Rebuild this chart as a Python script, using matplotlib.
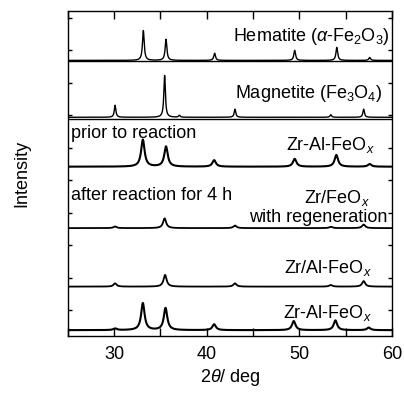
import numpy as np
import matplotlib.pyplot as plt
from matplotlib.ticker import MultipleLocator

plt.rcParams['font.family'] = 'Liberation Sans'
plt.rcParams['mathtext.fontset'] = 'custom'
plt.rcParams['mathtext.rm'] = 'Liberation Sans'
plt.rcParams['mathtext.it'] = 'Liberation Sans:italic'

# peak tables: 2theta (deg), height, offset of trace
hem_pos = [33.15, 35.6, 40.85, 49.5, 54.05, 57.6]
hem_int = [0.92, 0.65, 0.22, 0.31, 0.40, 0.09]
hem_base = 8.48

mag_pos = [30.1, 35.45, 37.05, 43.05, 53.4, 56.95]
mag_int = [0.37, 1.29, 0.06, 0.25, 0.08, 0.25]
mag_base = 6.73

prior_pos = [33.1, 35.6, 40.8, 49.5, 54.0, 57.6]
prior_int = [0.83, 0.62, 0.20, 0.24, 0.36, 0.08]
prior_base = 5.21

regen_pos = [30.1, 35.45, 43.05, 53.4, 56.95]
regen_int = [0.05, 0.30, 0.08, 0.04, 0.11]
regen_base = 3.32

zral_pos = [30.1, 35.5, 43.05, 53.4, 56.95]
zral_int = [0.10, 0.36, 0.10, 0.05, 0.17]
zral_base = 1.52

zr_pos = [30.1, 33.1, 35.55, 40.8, 49.4, 53.9, 57.5]
zr_int = [0.05, 0.83, 0.68, 0.18, 0.28, 0.30, 0.08]
zr_base = 0.18

def trace(x, pos, inten, width):
    y = np.zeros_like(x)
    for p, h in zip(pos, inten):
        y = y + h/(1 + ((x - p)/(width/2))**2)
    return y

x = np.linspace(25, 60, 3000)

fig = plt.figure(figsize=(4.04, 3.93), dpi=100)
ax = fig.add_axes([0.168, 0.145, 0.802, 0.827])

# reference patterns (sharp), sample patterns (broad, noisy -> thicker line)
ax.plot(x, hem_base + trace(x, hem_pos, hem_int, 0.22), color='k', lw=1.0)
ax.plot(x, mag_base + trace(x, mag_pos, mag_int, 0.2), color='k', lw=1.0)
ax.plot(x, prior_base + trace(x, prior_pos, prior_int, 0.45), color='k', lw=1.5)
ax.plot(x, regen_base + trace(x, regen_pos, regen_int, 0.4), color='k', lw=1.3)
ax.plot(x, zral_base + trace(x, zral_pos, zral_int, 0.4), color='k', lw=1.3)
ax.plot(x, zr_base + trace(x, zr_pos, zr_int, 0.45), color='k', lw=1.5)

ax.axhline(8.46, color='k', lw=1.0)
ax.axhline(6.68, color='k', lw=1.0)

fs = 13
ax.text(59.8, 9.08, r'Hematite ($\alpha$-Fe$_2$O$_3$)', ha='right', va='baseline', fontsize=fs)
ax.text(59.0, 7.32, r'Magnetite (Fe$_3$O$_4$)', ha='right', va='baseline', fontsize=fs)
ax.text(25.35, 6.09, 'prior to reaction', ha='left', va='baseline', fontsize=fs)
ax.text(58.2, 5.72, r'Zr-Al-FeO$_x$', ha='right', va='baseline', fontsize=fs)
ax.text(25.35, 4.18, 'after reaction for 4 h', ha='left', va='baseline', fontsize=fs)
ax.text(57.6, 4.09, r'Zr/FeO$_x$', ha='right', va='baseline', fontsize=fs)
ax.text(59.55, 3.51, 'with regeneration', ha='right', va='baseline', fontsize=fs)
ax.text(57.85, 1.94, r'Zr/Al-FeO$_x$', ha='right', va='baseline', fontsize=fs)
ax.text(57.85, 0.55, r'Zr-Al-FeO$_x$', ha='right', va='baseline', fontsize=fs)

ax.set_xlim(25, 60)
ax.set_ylim(0, 10)
ax.xaxis.set_major_locator(MultipleLocator(10))
ax.xaxis.set_minor_locator(MultipleLocator(5))
ax.set_yticks(np.arange(0.8, 10, 1.0))
ax.tick_params(axis='x', which='both', direction='in', top=True, length=6, width=1, labelsize=fs, pad=7)
ax.tick_params(axis='y', which='both', direction='in', right=True, length=3, width=1, labelleft=False)
for s in ax.spines.values():
    s.set_linewidth(1.0)

ax.set_xlabel(r'2$\theta$/ deg', fontsize=fs, labelpad=3)
ax.set_ylabel('Intensity', fontsize=fs, labelpad=27)

fig.savefig('out.png', dpi=100)
